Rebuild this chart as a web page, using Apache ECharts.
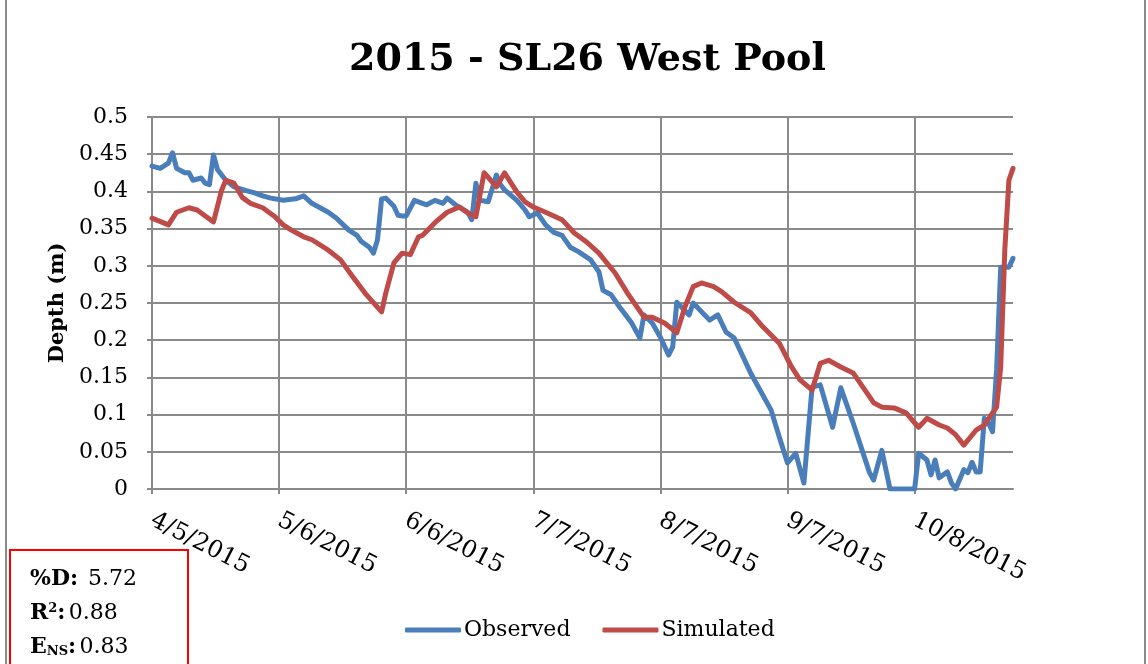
<!DOCTYPE html>
<html>
<head>
<meta charset="utf-8">
<title>2015 - SL26 West Pool</title>
<script src="https://cdn.jsdelivr.net/npm/echarts@6/dist/echarts.min.js"></script>
<style>
html, body { margin: 0; padding: 0; background: #fff; }
#main { width: 1148px; height: 664px; }
</style>
</head>
<body>
<div id="main"></div>
<script>
// axis range: first day of record and last day shown
var startDate = '2015-04-05';
var endDate = '2015-11-01';
var tickDays = 31;

var obsDates = ['2015-04-05','2015-04-07','2015-04-09','2015-04-10','2015-04-11','2015-04-13','2015-04-14','2015-04-15','2015-04-17','2015-04-18',
    '2015-04-19','2015-04-20','2015-04-21','2015-04-23','2015-04-25','2015-04-28','2015-04-30','2015-05-02','2015-05-04','2015-05-07',
    '2015-05-10','2015-05-12','2015-05-14','2015-05-16','2015-05-18','2015-05-20','2015-05-23','2015-05-25','2015-05-26','2015-05-28',
    '2015-05-29','2015-05-30','2015-05-31','2015-06-01','2015-06-03','2015-06-04','2015-06-05','2015-06-06','2015-06-08','2015-06-11',
    '2015-06-13','2015-06-15','2015-06-16','2015-06-18','2015-06-21','2015-06-22','2015-06-23','2015-06-24','2015-06-26','2015-06-28',
    '2015-06-29','2015-06-30','2015-07-03','2015-07-05','2015-07-06','2015-07-08','2015-07-10','2015-07-12',
    '2015-07-14','2015-07-16','2015-07-18','2015-07-21','2015-07-23','2015-07-24','2015-07-26','2015-07-28','2015-07-31','2015-08-02',
    '2015-08-03','2015-08-05','2015-08-07','2015-08-09','2015-08-10','2015-08-11','2015-08-14','2015-08-15','2015-08-19','2015-08-21',
    '2015-08-23','2015-08-25','2015-08-29','2015-09-03','2015-09-05','2015-09-07','2015-09-09','2015-09-11','2015-09-13','2015-09-15',
    '2015-09-18','2015-09-20','2015-09-23','2015-09-27','2015-09-28','2015-09-30','2015-10-02','2015-10-08','2015-10-09','2015-10-11',
    '2015-10-12','2015-10-13','2015-10-14','2015-10-16','2015-10-17','2015-10-18','2015-10-20','2015-10-21','2015-10-22','2015-10-23',
    '2015-10-24','2015-10-25','2015-10-26','2015-10-27','2015-10-28','2015-10-29','2015-10-31','2015-11-01'];
var obsValues = [0.434,0.431,0.438,0.452,0.431,0.425,0.425,0.415,0.418,0.411,
    0.409,0.449,0.429,0.415,0.406,0.401,0.398,0.394,0.391,0.388,
    0.390,0.394,0.384,0.378,0.372,0.364,0.348,0.341,0.333,0.325,
    0.317,0.335,0.390,0.391,0.380,0.368,0.367,0.367,0.388,0.382,
    0.388,0.384,0.391,0.382,0.372,0.362,0.411,0.388,0.386,0.422,
    0.409,0.402,0.388,0.375,0.366,0.371,0.355,0.345,
    0.341,0.325,0.319,0.308,0.292,0.267,0.261,0.245,0.223,0.203,
    0.234,0.223,0.204,0.180,0.191,0.251,0.234,0.250,0.227,0.234,
    0.211,0.203,0.156,0.106,0.070,0.035,0.048,0.008,0.137,0.140,
    0.083,0.136,0.089,0.022,0.012,0.052,0,0,0.048,0.039,
    0.019,0.039,0.015,0.023,0.008,0,0.026,0.022,0.036,0.023,
    0.023,0.095,0.089,0.077,0.160,0.298,0.298,0.310];

var simDates = ['2015-04-05','2015-04-09','2015-04-11','2015-04-14','2015-04-16','2015-04-20','2015-04-22','2015-04-23','2015-04-25','2015-04-27',
    '2015-04-29','2015-05-02','2015-05-05','2015-05-07','2015-05-09','2015-05-12','2015-05-14','2015-05-18','2015-05-21','2015-05-24',
    '2015-05-27','2015-05-31','2015-06-01','2015-06-03','2015-06-05','2015-06-07','2015-06-09','2015-06-10','2015-06-13','2015-06-16',
    '2015-06-19','2015-06-21','2015-06-23','2015-06-25','2015-06-26','2015-06-28','2015-06-30','2015-07-03','2015-07-05','2015-07-07',
    '2015-07-10','2015-07-14','2015-07-17','2015-07-20','2015-07-23','2015-07-27','2015-07-30','2015-08-03','2015-08-05','2015-08-08',
    '2015-08-11','2015-08-13','2015-08-15','2015-08-17','2015-08-20','2015-08-22','2015-08-25','2015-08-29','2015-09-01','2015-09-05',
    '2015-09-08','2015-09-10','2015-09-13','2015-09-15','2015-09-17','2015-09-20','2015-09-23','2015-09-28','2015-09-30','2015-10-03',
    '2015-10-06','2015-10-08','2015-10-09','2015-10-11','2015-10-14','2015-10-16','2015-10-18','2015-10-19','2015-10-20','2015-10-23',
    '2015-10-25','2015-10-28','2015-10-29','2015-10-30','2015-10-31','2015-11-01'];
var simValues = [0.364,0.355,0.372,0.378,0.375,0.359,0.402,0.415,0.411,0.392,
    0.384,0.378,0.366,0.355,0.348,0.339,0.335,0.321,0.308,0.285,
    0.263,0.238,0.263,0.304,0.317,0.315,0.339,0.341,0.358,0.372,
    0.379,0.371,0.366,0.425,0.419,0.406,0.425,0.399,0.386,0.379,
    0.372,0.362,0.344,0.332,0.317,0.290,0.263,0.231,0.231,0.223,
    0.210,0.245,0.272,0.277,0.272,0.265,0.251,0.237,0.218,0.196,
    0.164,0.147,0.133,0.169,0.173,0.164,0.156,0.116,0.110,0.109,
    0.102,0.089,0.083,0.095,0.086,0.082,0.073,0.066,0.059,0.079,
    0.086,0.110,0.164,0.321,0.415,0.431];

var seriesNames = ['Observed', 'Simulated'];
var statLabels = ['%D:', 'R', 'E'];
var statValues = ['5.72', '0.88', '0.83'];

var DAY = 86400000;
var t0 = Date.parse(startDate);
function dayOf(s) {
    return Math.round((Date.parse(s) - t0) / DAY);
}
function pairs(dates, vals) {
    var out = [];
    for (var i = 0; i < dates.length; i++) out.push([dayOf(dates[i]), vals[i]]);
    return out;
}
function dateLabel(v) {
    var d = new Date(t0 + v * DAY);
    return (d.getUTCMonth() + 1) + '/' + d.getUTCDate() + '/' + d.getUTCFullYear();
}

var serif = 'DejaVu Serif';
var gridColor = '#8a8a8a';

var myChart = echarts.init(document.getElementById('main'));
var option = {
    backgroundColor: '#fff',
    animation: false,
    title: {
        text: '2015 - SL26 West Pool',
        left: 344,
        top: 36,
        textStyle: { fontFamily: serif, fontWeight: 'bold', fontSize: 38, color: '#000' }
    },
    grid: { left: 152, right: 135, top: 117, bottom: 175, containLabel: false },
    legend: {
        data: seriesNames,
        bottom: 18,
        left: 400,
        icon: 'roundRect',
        itemWidth: 56,
        itemHeight: 5,
        itemGap: 32,
        textStyle: { fontFamily: serif, fontSize: 22, color: '#000', padding: [0, 0, 0, -2] }
    },
    xAxis: {
        type: 'value',
        min: 0,
        max: dayOf(endDate),
        interval: tickDays,
        axisLine: { show: true, lineStyle: { color: gridColor, width: 2 } },
        axisTick: { show: true, length: 5, lineStyle: { color: gridColor, width: 2 } },
        splitLine: { show: true, showMaxLine: false, lineStyle: { color: gridColor, width: 2 } },
        axisLabel: {
            rotate: -27,
            margin: 30,
            showMaxLabel: false,
            fontFamily: serif,
            fontSize: 24,
            color: '#000',
            formatter: function (v) { return v % tickDays === 0 ? dateLabel(v) : ''; }
        }
    },
    yAxis: {
        type: 'value',
        min: 0,
        max: 0.5,
        interval: 0.05,
        name: 'Depth (m)',
        nameLocation: 'middle',
        nameGap: 80,
        nameTextStyle: { fontFamily: serif, fontWeight: 'bold', fontSize: 21, color: '#000' },
        axisLine: { show: true, lineStyle: { color: gridColor, width: 2 } },
        axisTick: { show: true, length: 5, lineStyle: { color: gridColor, width: 2 } },
        splitLine: { show: true, lineStyle: { color: gridColor, width: 2 } },
        axisLabel: { fontFamily: serif, fontSize: 22, color: '#000', margin: 24 }
    },
    series: [
        {
            name: seriesNames[0],
            type: 'line',
            data: pairs(obsDates, obsValues),
            symbol: 'none',
            itemStyle: { color: '#4a7ebb' },
            lineStyle: { color: '#4a7ebb', width: 5, join: 'round', cap: 'round' }
        },
        {
            name: seriesNames[1],
            type: 'line',
            data: pairs(simDates, simValues),
            symbol: 'none',
            itemStyle: { color: '#be4b48' },
            lineStyle: { color: '#be4b48', width: 5, join: 'round', cap: 'round' }
        }
    ],
    graphic: [
        {
            type: 'rect', silent: true, z: -10,
            shape: { x: 6, y: -10, width: 1139, height: 700 },
            style: { fill: 'none', stroke: '#8a8a8a', lineWidth: 2 }
        },
        {
            type: 'rect', silent: true,
            shape: { x: 10, y: 550, width: 178, height: 130 },
            style: { fill: '#fff', stroke: '#ff0000', lineWidth: 2 }
        },
        {
            type: 'text', x: 30, y: 579,
            style: {
                text: '{b|' + statLabels[0] + '}   {n|' + statValues[0] + '}',
                verticalAlign: 'middle',
                rich: {
                    b: { fontFamily: serif, fontWeight: 'bold', fontSize: 22, fill: '#000' },
                    n: { fontFamily: serif, fontSize: 22, fill: '#000' }
                }
            }
        },
        {
            type: 'text', x: 30, y: 613,
            style: {
                text: '{b|' + statLabels[1] + '}{sup|2}{b|:} {n|' + statValues[1] + '}',
                verticalAlign: 'middle',
                rich: {
                    b: { fontFamily: serif, fontWeight: 'bold', fontSize: 22, fill: '#000' },
                    sup: { fontFamily: serif, fontWeight: 'bold', fontSize: 13, fill: '#000', verticalAlign: 'top' },
                    n: { fontFamily: serif, fontSize: 22, fill: '#000' }
                }
            }
        },
        {
            type: 'text', x: 30, y: 647,
            style: {
                text: '{b|' + statLabels[2] + '}{sub|NS}{b|:} {n|' + statValues[2] + '}',
                verticalAlign: 'middle',
                rich: {
                    b: { fontFamily: serif, fontWeight: 'bold', fontSize: 22, fill: '#000' },
                    sub: { fontFamily: serif, fontWeight: 'bold', fontSize: 13, fill: '#000', verticalAlign: 'bottom' },
                    n: { fontFamily: serif, fontSize: 22, fill: '#000' }
                }
            }
        }
    ]
};
myChart.setOption(option);
</script>
</body>
</html>
